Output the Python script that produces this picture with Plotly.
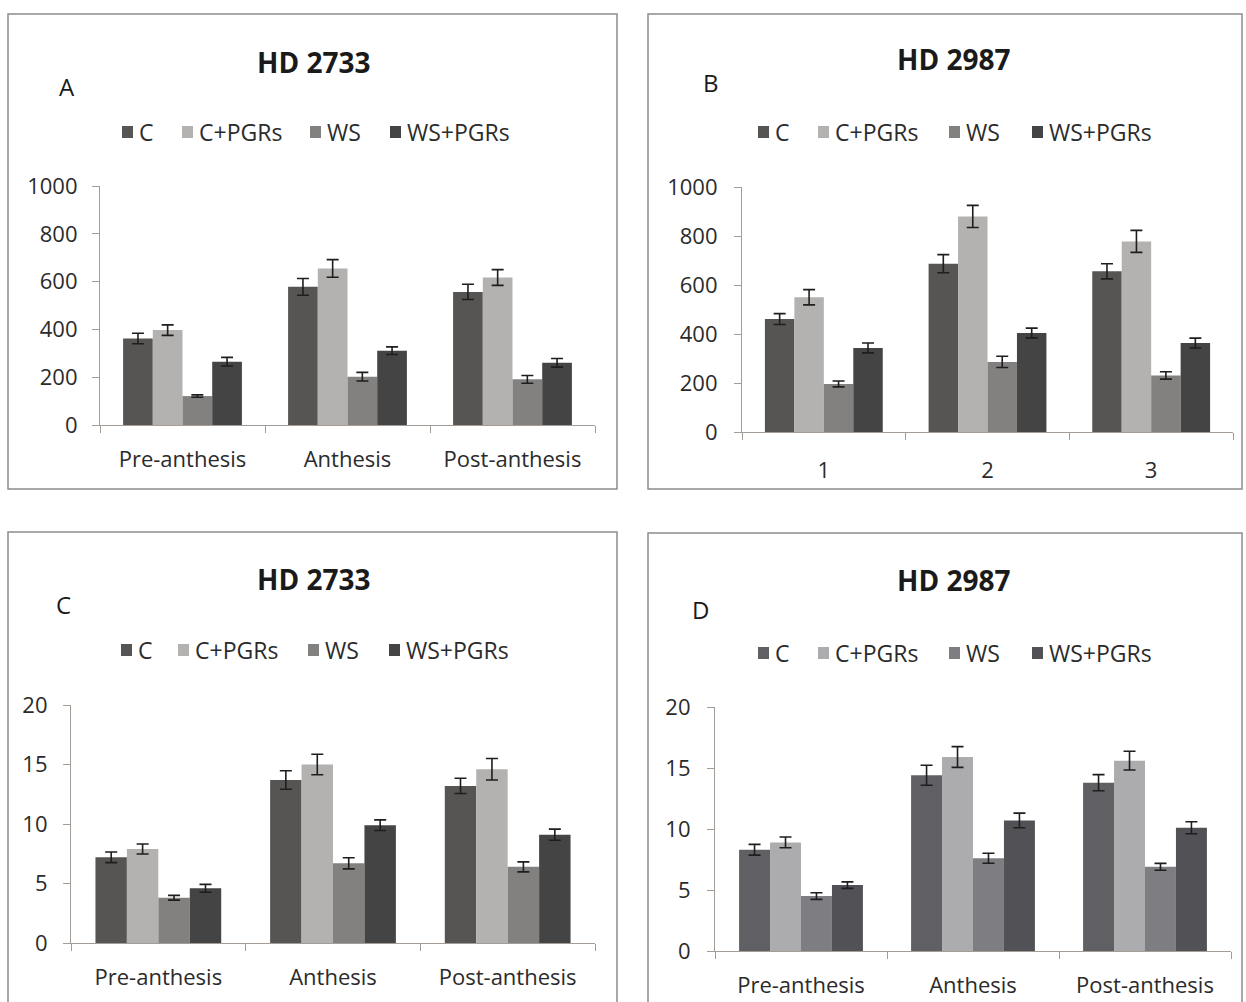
import plotly.graph_objects as go

W, H = 1246, 1002

# ---- data ----
stages = ["Pre-anthesis", "Anthesis", "Post-anthesis"]
stages_num = ["1", "2", "3"]
treatments = ["C", "C+PGRs", "WS", "WS+PGRs"]

# Panel A - HD 2733
a_c = [362, 578, 557]
a_c_err = [22, 35, 32]
a_cp = [397, 655, 617]
a_cp_err = [22, 37, 33]
a_ws = [121, 202, 191]
a_ws_err = [5, 18, 16]
a_wsp = [265, 311, 260]
a_wsp_err = [18, 16, 18]

# Panel B - HD 2987
b_c = [461, 687, 656]
b_c_err = [22, 37, 31]
b_cp = [550, 880, 778]
b_cp_err = [31, 45, 45]
b_ws = [196, 286, 231]
b_ws_err = [12, 23, 15]
b_wsp = [343, 404, 363]
b_wsp_err = [20, 20, 20]

# Panel C - HD 2733
c_c = [7.2, 13.7, 13.2]
c_c_err = [0.45, 0.78, 0.64]
c_cp = [7.9, 15.0, 14.6]
c_cp_err = [0.42, 0.86, 0.9]
c_ws = [3.8, 6.7, 6.4]
c_ws_err = [0.2, 0.47, 0.42]
c_wsp = [4.6, 9.9, 9.1]
c_wsp_err = [0.33, 0.45, 0.47]

# Panel D - HD 2987
d_c = [8.3, 14.4, 13.8]
d_c_err = [0.44, 0.82, 0.66]
d_cp = [8.9, 15.9, 15.6]
d_cp_err = [0.44, 0.85, 0.77]
d_ws = [4.5, 7.6, 6.9]
d_ws_err = [0.27, 0.41, 0.28]
d_wsp = [5.4, 10.7, 10.1]
d_wsp_err = [0.27, 0.6, 0.49]

greys_abc = ["#575553", "#b4b2b1", "#838180", "#454444"]
greys_d = ["#606064", "#acacae", "#7e7e82", "#525256"]

FONT = "'Open Sans', Lato, sans-serif"
TXT = "#2b2b2b"
AXIS = "#a49c96"


def fx(px):
    return px / W


def fy(py):
    return 1 - py / H


panels = [
    dict(ax="", cats=stages, vals=[a_c, a_cp, a_ws, a_wsp],
         errs=[a_c_err, a_cp_err, a_ws_err, a_wsp_err], colors=greys_abc,
         xdom=(100, 595), ydom=(425, 186), yrange=[0, 1000], dtick=200,
         ystand=10, xstand=14,
         box=(8, 14, 617, 489), title="HD 2733", title_xy=(313, 62),
         letter="A", letter_xy=(67, 87), leg_y=132,
         leg_x=[122, 182, 310, 390]),
    dict(ax="2", cats=stages_num, vals=[b_c, b_cp, b_ws, b_wsp],
         errs=[b_c_err, b_cp_err, b_ws_err, b_wsp_err], colors=greys_abc,
         xdom=(742, 1233), ydom=(432, 187), yrange=[0, 1000], dtick=200,
         ystand=12, xstand=18,
         box=(648, 14, 1242, 489), title="HD 2987", title_xy=(953, 59),
         letter="B", letter_xy=(711, 83), leg_y=132,
         leg_x=[758, 818, 949, 1032]),
    dict(ax="3", cats=stages, vals=[c_c, c_cp, c_ws, c_wsp],
         errs=[c_c_err, c_cp_err, c_ws_err, c_wsp_err], colors=greys_abc,
         xdom=(71, 595), ydom=(943, 705), yrange=[0, 20], dtick=5,
         ystand=11, xstand=14,
         box=(8, 532, 617, 1010), title="HD 2733", title_xy=(313, 579),
         letter="C", letter_xy=(63, 604), leg_y=650,
         leg_x=[121, 178, 308, 389]),
    dict(ax="4", cats=stages, vals=[d_c, d_cp, d_ws, d_wsp],
         errs=[d_c_err, d_cp_err, d_ws_err, d_wsp_err], colors=greys_d,
         xdom=(715, 1231), ydom=(951, 707), yrange=[0, 20], dtick=5,
         ystand=12, xstand=14,
         box=(648, 533, 1242, 1010), title="HD 2987", title_xy=(953, 580),
         letter="D", letter_xy=(700, 609), leg_y=653,
         leg_x=[758, 818, 949, 1032]),
]

fig = go.Figure()
shapes = []
annotations = []
layout_axes = {}

for p in panels:
    xa = "x" + p["ax"]
    ya = "y" + p["ax"]
    for name, v, e, col in zip(treatments, p["vals"], p["errs"], p["colors"]):
        fig.add_trace(go.Bar(
            x=p["cats"], y=v, name=name, xaxis=xa, yaxis=ya,
            marker=dict(color=col, line=dict(width=0)),
            error_y=dict(type="data", array=e, visible=True,
                         color="#1e1e1e", thickness=1.6, width=6),
            showlegend=False,
        ))

    layout_axes["xaxis" + p["ax"]] = dict(
        domain=[fx(p["xdom"][0]), fx(p["xdom"][1])],
        anchor=ya, type="category", showline=True, linecolor=AXIS,
        linewidth=1.2, ticks="outside", tickson="boundaries", ticklen=7,
        tickcolor=AXIS, showgrid=False, zeroline=False, automargin=False,
        tickfont=dict(family=FONT, size=22, color=TXT),
        ticklabelstandoff=p["xstand"],
    )
    layout_axes["yaxis" + p["ax"]] = dict(
        domain=[fy(p["ydom"][0]), fy(p["ydom"][1])],
        anchor=xa, range=p["yrange"], dtick=p["dtick"], showline=True,
        linecolor=AXIS, linewidth=1.2, ticks="outside", ticklen=7,
        tickcolor=AXIS, showgrid=False, zeroline=False, automargin=False,
        tickfont=dict(family=FONT, size=22, color=TXT),
        ticklabelstandoff=p["ystand"],
    )

    # panel frame
    x0, y0, x1, y1 = p["box"]
    shapes.append(dict(type="rect", xref="paper", yref="paper",
                       x0=fx(x0), x1=fx(x1), y0=fy(y1), y1=fy(y0),
                       line=dict(color="#8c8c8c", width=1.5),
                       fillcolor="rgba(0,0,0,0)", layer="below"))

    # title and panel letter
    annotations.append(dict(text="<b>%s</b>" % p["title"], xref="paper",
                            yref="paper", x=fx(p["title_xy"][0]),
                            y=fy(p["title_xy"][1]), xanchor="center",
                            yanchor="middle", showarrow=False,
                            font=dict(family=FONT, size=28, color="#1a1a1a")))
    annotations.append(dict(text=p["letter"], xref="paper", yref="paper",
                            x=fx(p["letter_xy"][0]), y=fy(p["letter_xy"][1]),
                            xanchor="center", yanchor="middle",
                            showarrow=False,
                            font=dict(family=FONT, size=24, color="#1a1a1a")))

    # legend row: swatch + label
    ly = p["leg_y"]
    for name, lx, col in zip(treatments, p["leg_x"], p["colors"]):
        shapes.append(dict(type="rect", xref="paper", yref="paper",
                           x0=fx(lx), x1=fx(lx + 11), y0=fy(ly + 6),
                           y1=fy(ly - 6), fillcolor=col,
                           line=dict(width=0)))
        annotations.append(dict(text=name, xref="paper", yref="paper",
                                x=fx(lx + 15), y=fy(ly), xanchor="left",
                                yanchor="middle", showarrow=False,
                                font=dict(family=FONT, size=23, color=TXT)))

fig.update_layout(
    template="none",
    width=W, height=H,
    margin=dict(l=0, r=0, t=0, b=0, pad=0, autoexpand=False),
    paper_bgcolor="white", plot_bgcolor="white",
    barmode="group", bargap=0.28, bargroupgap=0,
    shapes=shapes, annotations=annotations,
    showlegend=False,
    **layout_axes,
)

fig.write_html("out.html")
